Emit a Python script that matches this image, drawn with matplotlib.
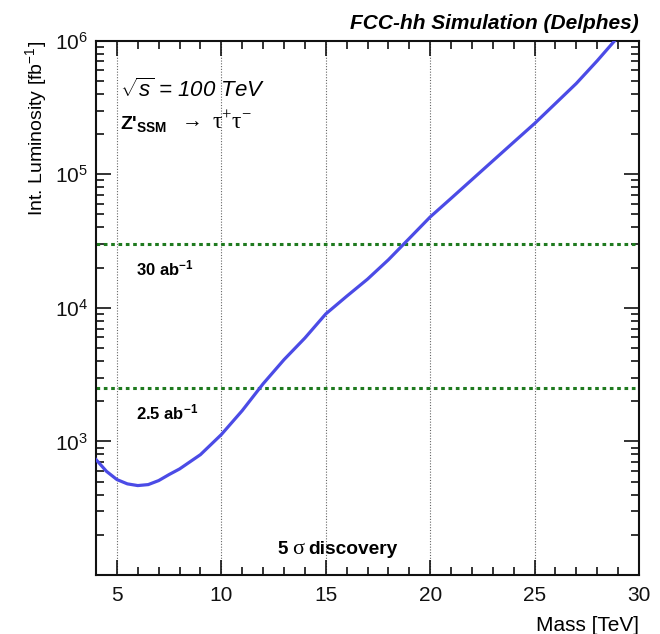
import numpy as np
import matplotlib
matplotlib.use("Agg")
import matplotlib.pyplot as plt
from matplotlib.ticker import FixedLocator, NullFormatter, LogFormatterMathtext

plt.rcParams['font.family'] = ['Liberation Sans', 'DejaVu Sans']
plt.rcParams['mathtext.fontset'] = 'custom'
plt.rcParams['mathtext.rm'] = 'Liberation Serif'
plt.rcParams['mathtext.sf'] = 'Liberation Sans'
plt.rcParams['mathtext.it'] = 'Liberation Sans:italic'
plt.rcParams['mathtext.bf'] = 'Liberation Sans:bold'

# 5 sigma discovery reach: required integrated luminosity vs Z' mass
mass_tev = [4, 4.5, 5, 5.5, 6, 6.5, 7, 7.5, 8, 9, 10, 11, 12, 13, 14, 15, 16, 17,
            18, 19, 20, 21, 22, 23, 24, 25, 26, 27, 28, 29]
lumi_fb = [731, 597, 518, 481, 467, 475, 509, 565, 622, 796, 1125, 1700, 2700,
           4090, 5940, 9000, 12200, 16400, 22900, 33100, 47900, 66000, 91200,
           126000, 174000, 240000, 339000, 479000, 708000, 1070000]

# reference luminosity scenarios (fb^-1)
ref_lumi = [30000, 2500]
ref_labels = [r"30 ab$^{\mathbf{-1}}$", r"2.5 ab$^{\mathbf{-1}}$"]
ref_label_y = [17500, 1450]

fig = plt.figure(figsize=(6.6, 6.34), dpi=100)
ax = fig.add_axes([0.1455, 0.0931, 0.8227, 0.8427])

ax.set_yscale('log')
ax.set_xlim(4, 30)
ax.set_ylim(100, 1e6)

# vertical grid lines
for xv in [5, 10, 15, 20, 25]:
    ax.axvline(xv, color='#666666', lw=0.8, ls=(0, (1, 1.5)), zorder=1)

for yv in ref_lumi:
    ax.axhline(yv, color='#1f7a1f', lw=2.2, ls=(0, (1.2, 1.2)), zorder=2)

ax.plot(mass_tev, lumi_fb, color='#4b4be6', lw=2.3, zorder=3,
        solid_joinstyle='round')

# ticks
ax.xaxis.set_major_locator(FixedLocator([5, 10, 15, 20, 25, 30]))
ax.xaxis.set_minor_locator(FixedLocator(np.arange(4, 31, 1)))
ax.yaxis.set_major_locator(FixedLocator([1e3, 1e4, 1e5, 1e6]))
ax.yaxis.set_minor_locator(FixedLocator([m * 10 ** e for e in range(2, 6) for m in range(2, 10)]))
ax.yaxis.set_major_formatter(LogFormatterMathtext())
ax.yaxis.set_minor_formatter(NullFormatter())
ax.tick_params(which='both', direction='in', top=True, right=True, width=1.2, colors='#111111')
ax.tick_params(which='major', length=11, labelsize=15, pad=6)
ax.tick_params(which='minor', length=5.5)
ax.tick_params(axis='x', which='major', pad=8)
for s in ax.spines.values():
    s.set_linewidth(1.5)
    s.set_color('#111111')

ax.set_xlabel('Mass [TeV]', fontsize=15, loc='right', labelpad=8)
ax.set_ylabel(r'Int. Luminosity [fb$^{\mathsf{-1}}$]', fontsize=14, loc='top', labelpad=4)

fig.text(0.968, 0.955, 'FCC-hh Simulation (Delphes)', fontsize=15, fontweight='bold',
         fontstyle='italic', ha='right', va='baseline')

ax.text(0.045, 0.895, r'$\sqrt{s}$ = 100 TeV', transform=ax.transAxes, fontsize=16,
        fontstyle='italic', va='baseline', ha='left')
ax.text(0.045, 0.835, r"Z'$_{\mathbf{SSM}}$",
        transform=ax.transAxes, fontsize=14, va='baseline', ha='left', fontweight='bold')
ax.text(0.158, 0.838, "→", transform=ax.transAxes, fontsize=15,
        va='baseline', ha='left')
ax.text(0.214, 0.835, r"τ$^{+}$τ$^{-}$", transform=ax.transAxes, fontsize=17,
        family='Liberation Serif', va='baseline', ha='left')

for lab, yl in zip(ref_labels, ref_label_y):
    ax.text(5.9, yl, lab, fontsize=12, fontweight='bold', ha='left', va='baseline')

ax.text(0.335, 0.04, "5", transform=ax.transAxes, fontsize=13.5,
        fontweight='bold', ha='left', va='baseline')
ax.text(0.362, 0.04, "σ", transform=ax.transAxes, fontsize=16,
        family='Liberation Serif', ha='left', va='baseline')
ax.text(0.390, 0.04, "discovery", transform=ax.transAxes, fontsize=13.8,
        fontweight='bold', ha='left', va='baseline')

fig.savefig('out.png', dpi=100)
